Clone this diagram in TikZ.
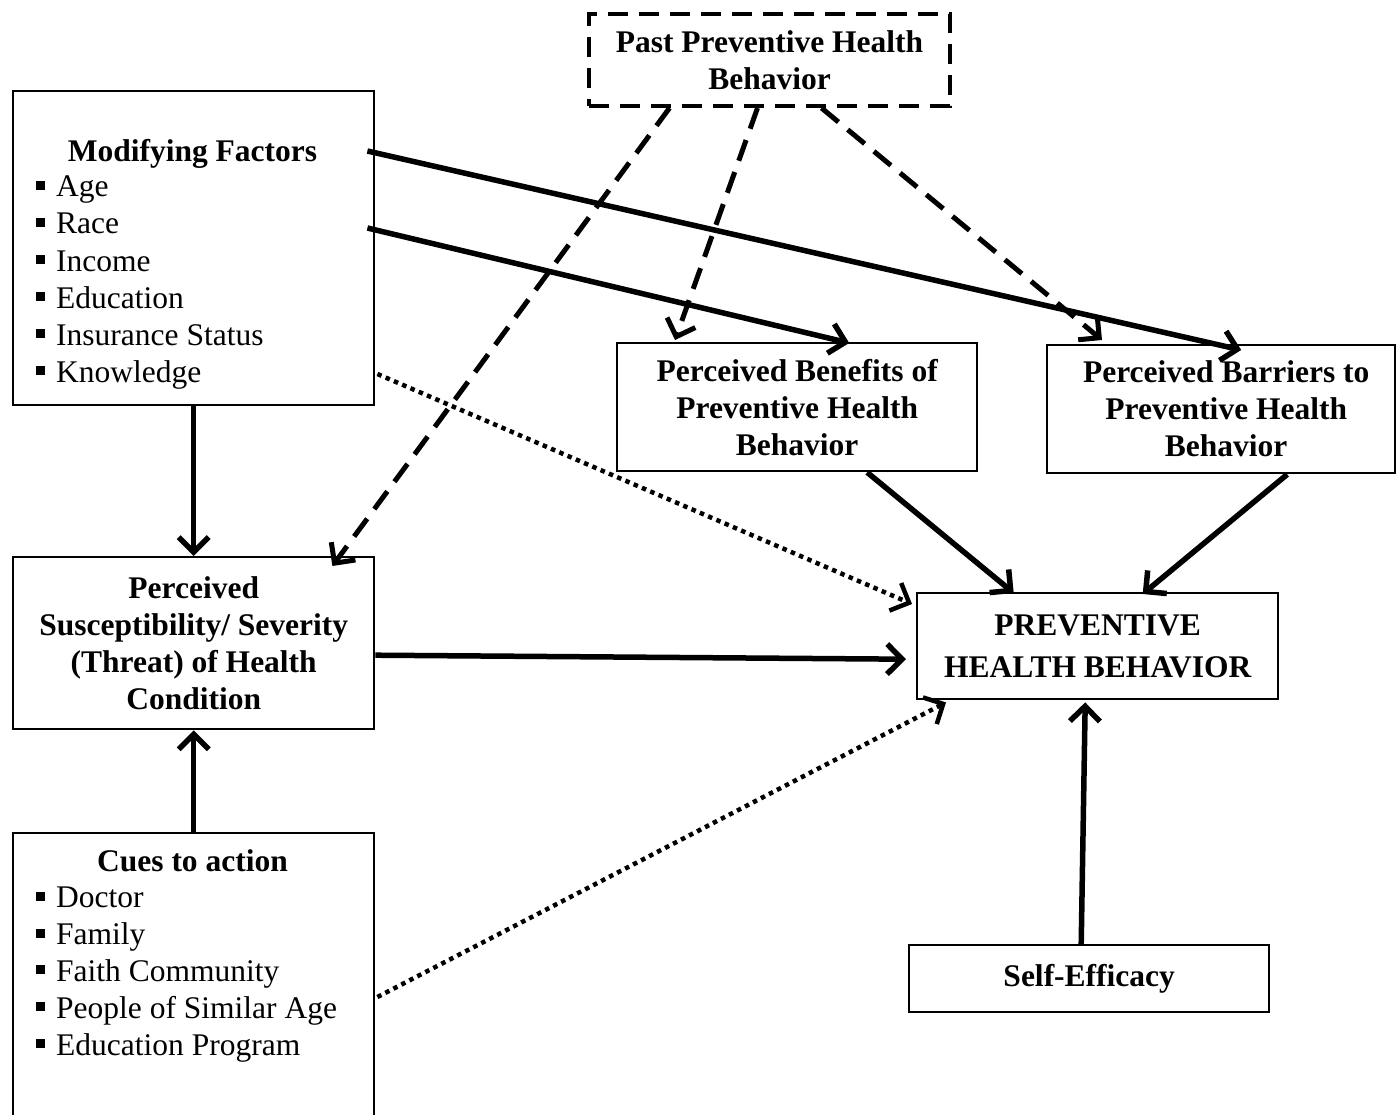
\documentclass[tikz,border=0pt]{standalone}
\usepackage{fontspec}
\setmainfont{Liberation Serif}
\usetikzlibrary{arrows.meta}
\newcommand\fsz{\fontsize{31.5}{37}\selectfont}
\newcommand\mybul{\makebox[20pt][l]{\raisebox{7pt}{\rule{9pt}{9pt}}}}
\begin{document}
\begin{tikzpicture}[x=1pt,y=-1pt,
  box/.style={draw, line width=2.4pt, inner sep=0pt, anchor=north west, align=center, font=\fsz\bfseries},
  item/.style={anchor=base west, inner sep=0pt, font=\fsz},
  ttl/.style={anchor=base, inner sep=0pt, font=\fsz\bfseries},
  arr/.style={line width=5.5pt, -{Straight Barb[length=15pt,width=30pt]}},
  dsh/.style={arr, line width=5pt, dash pattern=on 22pt off 12pt},
  dot/.style={arr, line width=4.5pt, dash pattern=on 4.5pt off 4.5pt}]
\useasboundingbox (0,0) rectangle (1396,1115);
\node[box, minimum width=361pt, minimum height=92pt, dash pattern=on 20pt off 11pt, line width=4pt] (past) at (587,12) {Past Preventive Health\\ Behavior};
\node[box, minimum width=361pt, minimum height=314pt] (mf) at (12,90) {};
\node[ttl] (mft) at (192.5,162) {Modifying Factors};
\foreach \t [count=\i] in {Age,Race,Income,Education,Insurance Status,Knowledge}
  \node[item] (mf\i) at (36,{160+37*\i}) {\mybul\t};
\node[box, minimum width=360pt, minimum height=128pt] (ben) at (616,342) {Perceived Benefits of\\ Preventive Health\\ Behavior};
\node[box, minimum width=348pt, minimum height=128pt, xshift=0pt] (bar) at (1046,344) {\hspace*{10pt}Perceived Barriers to\\ \hspace*{10pt}Preventive Health\\ \hspace*{10pt}Behavior};
\node[box, minimum width=361pt, minimum height=172pt] (susc) at (12,556) {Perceived\\ Susceptibility/ Severity\\ (Threat) of Health\\ Condition};
\node[box, minimum width=361pt, minimum height=106pt, font=\fontsize{31.5}{42}\selectfont\bfseries] (phb) at (916,592) {PREVENTIVE\\ HEALTH BEHAVIOR};
\node[box, minimum width=360pt, minimum height=67pt] (self) at (908,944) {Self-Efficacy};
\node[box, minimum width=361pt, minimum height=300pt] (cues) at (12,832) {};
\node[ttl] (cuest) at (192.5,871) {Cues to action};
\foreach \t [count=\i] in {Doctor,Family,Faith Community,People of Similar Age,Education Program}
  \node[item] (cu\i) at (36,{871+36.8*\i}) {\mybul\t};
% arrows
\draw[arr] (mf.south) -- (susc.north);
\draw[arr] (cues.north) -- (susc.south);
\draw[arr] ([yshift=-12pt]susc.east) -- ([xshift=-10pt,yshift=-13pt]phb.west);
\draw[arr] ([xshift=-8pt,yshift=-61pt]mf.north east) -- ([xshift=20pt,yshift=-6pt]bar.north);
\draw[arr] ([xshift=-8pt,yshift=-138pt]mf.north east) -- ([xshift=52pt,yshift=-1pt]ben.north);
\draw[dot] ([xshift=2pt,yshift=-284pt]mf.north east) -- ([xshift=-4pt,yshift=-12pt]phb.north west);
\draw[dot] ([xshift=2pt,yshift=-165pt]cues.north east) -- ([xshift=30pt,yshift=-2pt]phb.south west);
\draw[dsh] ([xshift=-100pt]past.south) -- ([xshift=-43pt,yshift=-10pt]susc.north east);
\draw[dsh] ([xshift=-12pt]past.south) -- ([xshift=59pt,yshift=2pt]ben.north west);
\draw[dsh] ([xshift=52pt]past.south) -- ([xshift=56pt,yshift=4pt]bar.north west);
\draw[arr] ([xshift=70pt]ben.south) -- ([xshift=-84pt,yshift=-1pt]phb.north);
\draw[arr] ([xshift=66pt]bar.south) -- ([xshift=45pt,yshift=-2pt]phb.north);
\draw[arr] ([xshift=-8pt]self.north) -- ([xshift=-12.5pt,yshift=-2pt]phb.south);
\end{tikzpicture}
\end{document}
